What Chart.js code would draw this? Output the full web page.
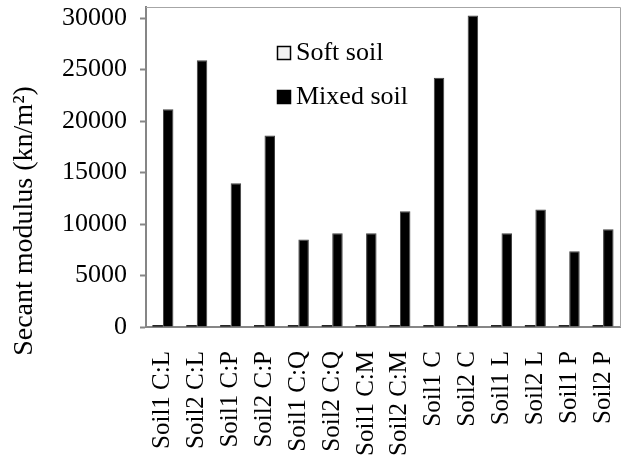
<!DOCTYPE html>
<html>
<head>
<meta charset="utf-8">
<script src="https://cdn.jsdelivr.net/npm/chart.js@4/dist/chart.umd.min.js"></script>
<style>
html,body{margin:0;padding:0;background:#fff;}
#wrap{width:625px;height:459px;}
</style>
</head>
<body>
<div id="wrap"><canvas id="c" width="625" height="459"></canvas></div>
<script>
const categories = ["Soil1 C:L","Soil2 C:L","Soil1 C:P","Soil2 C:P","Soil1 C:Q","Soil2 C:Q","Soil1 C:M","Soil2 C:M","Soil1 C","Soil2 C","Soil1 L","Soil2 L","Soil1 P","Soil2 P"];
const softSoil = [180,180,180,180,180,180,180,180,180,180,180,180,180,180];
const mixedSoil = [21150,25900,13950,18600,8500,9100,9100,11250,24200,30250,9100,11400,7350,9500];
const yTicks = [0,5000,10000,15000,20000,25000,30000];
const yTitle = "Secant modulus (kn/m\u00B2)";

const FONT = '"Liberation Serif","Times New Roman",serif';

const framePlugin = {
  id: 'frame',
  afterDraw(chart) {
    const ctx = chart.ctx, a = chart.chartArea;
    ctx.save();
    ctx.strokeStyle = '#a6a6a6';
    ctx.lineWidth = 1;
    ctx.beginPath();
    ctx.moveTo(a.left, a.top + 0.5);
    ctx.lineTo(a.right + 0.5, a.top + 0.5);
    ctx.lineTo(a.right + 0.5, a.bottom);
    ctx.stroke();
    // y title
    ctx.fillStyle = '#000';
    ctx.font = '28px ' + FONT;
    ctx.textAlign = 'center';
    ctx.textBaseline = 'middle';
    ctx.translate(25, 221);
    ctx.rotate(-Math.PI / 2);
    ctx.fillText(yTitle, 0, 0);
    ctx.restore();
    // legend
    ctx.save();
    ctx.font = '26px ' + FONT;
    ctx.textBaseline = 'middle';
    ctx.textAlign = 'left';
    const lx = 277, ly0 = 53, gap = 44;
    chart.data.datasets.forEach((ds, i) => {
      const y = ly0 + i * gap;
      ctx.fillStyle = ds.legendFill || ds.backgroundColor;
      ctx.fillRect(lx, y - 7, 14, 14);
      ctx.strokeStyle = '#000';
      ctx.lineWidth = 1.5;
      ctx.strokeRect(lx + 0.5, y - 6.5, 13, 13);
      ctx.fillStyle = '#000';
      ctx.fillText(ds.label, lx + 19, y);
    });
    ctx.restore();
  }
};

new Chart(document.getElementById('c'), {
  type: 'bar',
  data: {
    labels: categories,
    datasets: [
      { label: 'Soft soil', data: softSoil, backgroundColor: '#000000', legendFill: '#f2f2f2', borderColor: '#000000', borderWidth: 0, categoryPercentage: 0.62, barPercentage: 1 },
      { label: 'Mixed soil', data: mixedSoil, backgroundColor: '#000000', borderColor: '#404040', borderWidth: 1, categoryPercentage: 0.62, barPercentage: 1 }
    ]
  },
  options: {
    responsive: false,
    animation: false,
    devicePixelRatio: 1,
    layout: { padding: { top: 7, right: 5, left: 0, bottom: 0 } },
    plugins: { legend: { display: false }, tooltip: { enabled: false } },
    scales: {
      x: {
        grid: { display: true, drawOnChartArea: false, drawTicks: false },
        border: { color: '#868686', width: 2 },
        ticks: { autoSkip: false, minRotation: 90, maxRotation: 90, padding: 24, color: '#000', font: { family: FONT, size: 25 } },
        afterFit(s) { s.height = 132; s.paddingLeft = 0; s.paddingRight = 0; }
      },
      y: {
        min: 0,
        max: 31070,
        grid: { display: true, drawOnChartArea: false, drawTicks: true, tickLength: 6, color: '#868686', tickWidth: 2 },
        border: { color: '#868686', width: 2 },
        ticks: { stepSize: 5000, padding: 13, color: '#000', font: { family: FONT, size: 26 }, callback: v => String(v) },
        afterBuildTicks(s) { s.ticks = yTicks.map(v => ({ value: v })); },
        afterFit(s) { s.width = 146; s.paddingTop = 0; s.paddingBottom = 0; }
      }
    }
  },
  plugins: [framePlugin]
});
</script>
</body>
</html>
